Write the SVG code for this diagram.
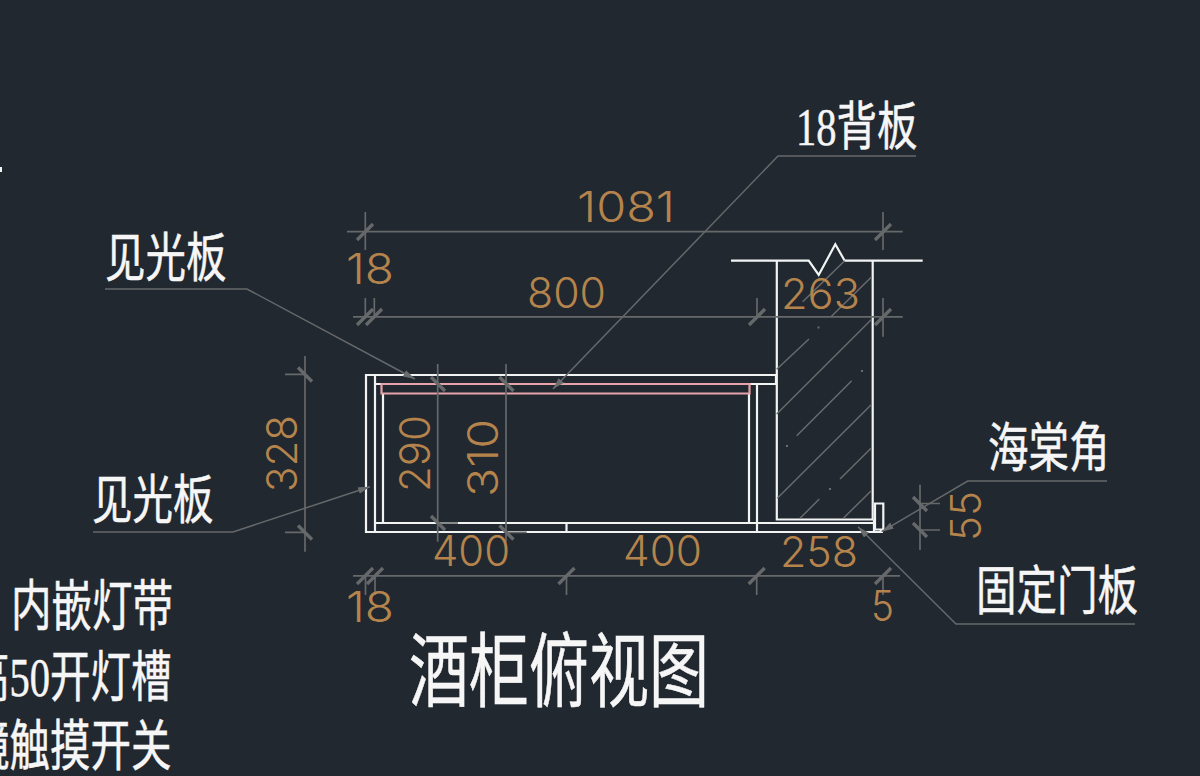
<svg xmlns="http://www.w3.org/2000/svg" width="1200" height="776" viewBox="0 0 1200 776">
<defs>
<style>
.w{fill:none;stroke:#f2f4f4;stroke-width:2.2}
.p{fill:none;stroke:#e6a4aa;stroke-width:2.2}
.h{fill:none;stroke:#686a6c;stroke-width:1.5}
.d{fill:none;stroke:#66686a;stroke-width:1.7}
.t{fill:none;stroke:#66686a;stroke-width:3.4}
.l{fill:none;stroke:#66686a;stroke-width:1.5}
.o{fill:#6a6c6e}
.n{font-family:"Inter","Liberation Sans",sans-serif;font-weight:300;font-size:42px;fill:#b5844c}
.c{font-family:"Liberation Serif","Noto Sans CJK SC",serif;font-size:40.500px;font-weight:400;fill:#f6f6f6;stroke:#f6f6f6;stroke-width:.4}
.z{font-family:"Noto Sans CJK SC",serif;font-size:40.500px;font-weight:400;fill:#f6f6f6;stroke:#f6f6f6;stroke-width:.4}
</style>
<marker id="a" markerUnits="userSpaceOnUse" markerWidth="14" markerHeight="8" refX="12" refY="3.500" orient="auto"><path d="M0 0L12 3.500L0 7Z" fill="#6a6c6e"/></marker>
</defs>
<rect width="1200" height="776" fill="#212830"/>
<rect x="0" y="167" width="2" height="5" fill="#f4f4f4"/>
<g id="cabinet">
<path class="w" d="M776 375H366V532H883M375 375V532M375 384H776V375M383 393V523M375 523H874M566.500 523V532M749 393V523M757 384V532"/>
<path class="p" d="M381.500 384H749.500V393.500H381.500Z"/>
</g>
<g id="wall">
<path class="w" d="M731 260.700H808.700L818.700 275L835.300 244.300L844.700 260.700H922.700"/>
<path class="w" d="M776.800 260.700V519.500H872.700V260.700M874 519.500V532"/>
<path class="w" d="M875 503.500H883.300V529.500H875ZM880.800 529.500V532"/>
<path class="h" d="M776.700 369.300L809 339M776.700 414L871.700 319.300M796.700 435.700L851.700 380.700M777.300 498.300L871.700 404.300M840 479L871 448.300M800 518.300L819.300 499M843.300 518.300L871 491M802.700 301.700L844.700 260.700M831 316.700L871.700 276.700"/>
<rect class="o" x="817.500" y="326.500" width="2" height="2"/>
<rect class="o" x="861" y="370" width="2" height="2"/>
<rect class="o" x="786" y="445" width="2" height="2"/>
<rect class="o" x="829" y="488" width="2" height="2"/>
</g>
<g id="connectors">
<path class="d" d="M347 231.700H902.700M365.300 212V250M883 212V250"/>
<path class="d" d="M353 316.800H902.700M365.300 298V317M374.300 298V317M757 298V317M883 298V336.700"/>
<path class="d" d="M353 575.800H900M365.500 576V595M375 576V595M566.500 576V595M756.700 576V595M883 576V595"/>
<path class="d" d="M305 356V551.700M285 374.300H305M285 532.300H305"/>
<path class="d" d="M437.700 364V541.700M437.700 523H458M506 364V541.700M506 532.300H526.700"/>
<path class="d" d="M920 484.700V550M920 503.500H940M920 530H940"/>
<path class="t" d="M357 240L373 224M875 240L891 224M357 325L373 309M366 325L382 309M749 325L765 309M875 325L891 309M357 584L373 568M367 584L383 568M558.500 584L574.500 568M748.700 584L764.700 568M875 584L891 568"/>
<path class="t" d="M298 367.500L312 381.500M298 525.500L312 539.500M431 377L445 391M431 516L445 530M499.500 377L513.500 391M499.500 525.500L513.500 539.500M913 497L927 511M913 523L927 537"/>
<path class="l" marker-end="url(#a)" d="M105 289H247L415 379"/>
<path class="l" marker-end="url(#a)" d="M916 156H778L553 389"/>
<path class="l" marker-end="url(#a)" d="M93 532H233L370 486.700"/>
<path class="l" marker-end="url(#a)" d="M1107 481H967.700L881.700 531.700"/>
<path class="l" marker-end="url(#a)" d="M1135 624H956L858 526.700"/>
</g>
<g id="dimensions">
<text class="n" x="577" y="222" textLength="98" lengthAdjust="spacingAndGlyphs">1081</text>
<text class="n" x="346" y="284" textLength="48" lengthAdjust="spacingAndGlyphs">18</text>
<text class="n" x="527" y="308" textLength="79" lengthAdjust="spacingAndGlyphs">800</text>
<text class="n" x="781" y="309" textLength="79" lengthAdjust="spacingAndGlyphs">263</text>
<text class="n" x="432" y="566" textLength="78" lengthAdjust="spacingAndGlyphs">400</text>
<text class="n" x="623" y="566" textLength="79" lengthAdjust="spacingAndGlyphs">400</text>
<text class="n" x="780" y="567" textLength="78" lengthAdjust="spacingAndGlyphs">258</text>
<text class="n" x="346" y="622" textLength="48" lengthAdjust="spacingAndGlyphs">18</text>
<text class="n" x="871" y="621" textLength="23" lengthAdjust="spacingAndGlyphs">5</text>
<text class="n" transform="translate(297 492) rotate(-90)" textLength="77" lengthAdjust="spacingAndGlyphs">328</text>
<text class="n" transform="translate(430 492) rotate(-90)" textLength="77" lengthAdjust="spacingAndGlyphs">290</text>
<text class="n" transform="translate(498 497) rotate(-90)" textLength="78" lengthAdjust="spacingAndGlyphs">310</text>
<text class="n" transform="translate(981 541) rotate(-90)" textLength="50" lengthAdjust="spacingAndGlyphs">55</text>
</g>
<g id="labels">
<text class="c" transform="translate(796 145) scale(1 1.300)">18背板</text>
<text class="z" transform="translate(105 276.500) scale(1 1.310)">见光板</text>
<text class="z" transform="translate(92 518.500) scale(1 1.310)">见光板</text>
<text class="z" transform="translate(988 466.500) scale(1 1.310)">海棠角</text>
<text class="z" transform="translate(976 609.500) scale(1 1.310)">固定门板</text>
<text class="z" transform="translate(409 700) scale(1 1.350)" style="font-size:60px">酒柜俯视图</text>
<text class="z" transform="translate(11 625) scale(1 1.360)">内嵌灯带</text>
<text class="c" transform="translate(-31 696) scale(1 1.360)">高50开灯槽</text>
<text class="z" transform="translate(-31 765) scale(1 1.360)">镜触摸开关</text>
</g>
</svg>
